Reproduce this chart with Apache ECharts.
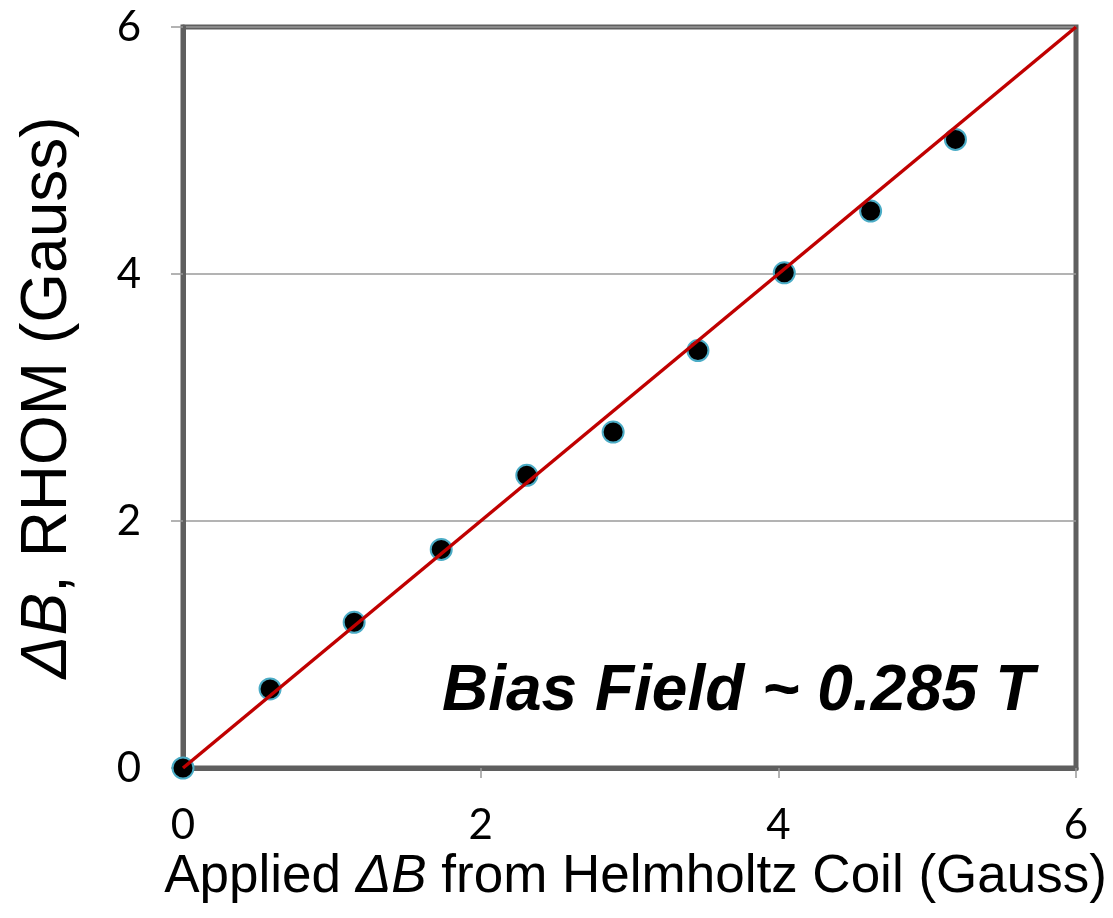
<!DOCTYPE html>
<html>
<head>
<meta charset="utf-8">
<script src="https://cdn.jsdelivr.net/npm/echarts@6/dist/echarts.min.js"></script>
<style>
  html, body { margin: 0; padding: 0; background: #fff; }
  #chart { width: 1113px; height: 918px; }
</style>
</head>
<body>
<div id="chart"></div>
<script>
  // measured points: applied field vs RHOM reading (Gauss)
  const appliedB = [0, 0.585, 1.15, 1.735, 2.31, 2.89, 3.46, 4.04, 4.62, 5.19]
  const rhomB = [0, 0.64, 1.18, 1.77, 2.37, 2.72, 3.38, 4.01, 4.51, 5.09]
  // unity reference line
  const fitX = [0, 6]
  const fitY = [0, 6]
  const axisTicks = [0, 2, 4, 6]
  const noteText = 'Bias Field ~ 0.285 T'

  const frameColor = '#5f5f5f'
  const gridColor = '#9a9a9a'
  const tickFont = 'Lato'
  const titleFont = '"Liberation Sans", Arial, sans-serif'

  let chart = echarts.init(document.getElementById('chart'))

  const axisCommon = {
    type: 'value',
    min: axisTicks[0],
    max: axisTicks[axisTicks.length - 1],
    interval: 2,
    nameLocation: 'middle',
    axisLine: { show: true, onZero: false, lineStyle: { color: frameColor, width: 5 } },
    axisTick: { show: true, length: 12, lineStyle: { color: gridColor, width: 1.5 } },
    splitLine: { show: true, lineStyle: { color: gridColor, width: 1.5 } },
    axisLabel: { color: '#000', fontFamily: tickFont, fontSize: 42 }
  }

  let option = {
    animation: false,
    backgroundColor: '#fff',
    grid: {
      left: 183,
      right: 37,
      top: 27,
      bottom: 150,
      show: true,
      borderColor: frameColor,
      borderWidth: 5
    },
    xAxis: Object.assign({}, axisCommon, {
      name: 'Applied {i|ΔB} from Helmholtz Coil (Gauss)',
      nameGap: 82,
      nameTextStyle: {
        color: '#000', fontFamily: titleFont, fontSize: 53,
        padding: [0, 0, 0, 12],
        rich: { i: { fontStyle: 'italic', fontFamily: titleFont, fontSize: 53, color: '#000' } }
      },
      axisTick: { show: true, length: 10, lineStyle: { color: gridColor, width: 1.5 } },
      splitLine: { show: false },
      axisLabel: { color: '#000', fontFamily: tickFont, fontSize: 42, margin: 36 }
    }),
    yAxis: Object.assign({}, axisCommon, {
      name: '{i|ΔB}, RHOM (Gauss)',
      nameGap: 103,
      nameTextStyle: {
        color: '#000', fontFamily: titleFont, fontSize: 64,
        rich: { i: { fontStyle: 'italic', fontFamily: titleFont, fontSize: 64, color: '#000' } }
      },
      axisLabel: { color: '#000', fontFamily: tickFont, fontSize: 42, margin: 42 }
    }),
    graphic: [{
      type: 'text',
      left: 442,
      top: 660,
      style: {
        text: noteText,
        font: 'italic bold 64px "Liberation Sans", Arial, sans-serif',
        fill: '#000'
      },
      z: 10
    }],
    series: [
      {
        name: 'RHOM',
        type: 'scatter',
        clip: false,
        symbol: 'circle',
        symbolSize: 21,
        itemStyle: { color: '#000', opacity: 1, borderColor: '#4bacc6', borderWidth: 2 },
        data: appliedB.map((x, i) => [x, rhomB[i]]),
        z: 3
      },
      {
        name: 'Fit',
        type: 'line',
        symbol: 'none',
        lineStyle: { color: '#c00000', width: 3.5 },
        data: fitX.map((x, i) => [x, fitY[i]]),
        z: 4
      }
    ]
  }
  chart.setOption(option)
</script>
</body>
</html>
